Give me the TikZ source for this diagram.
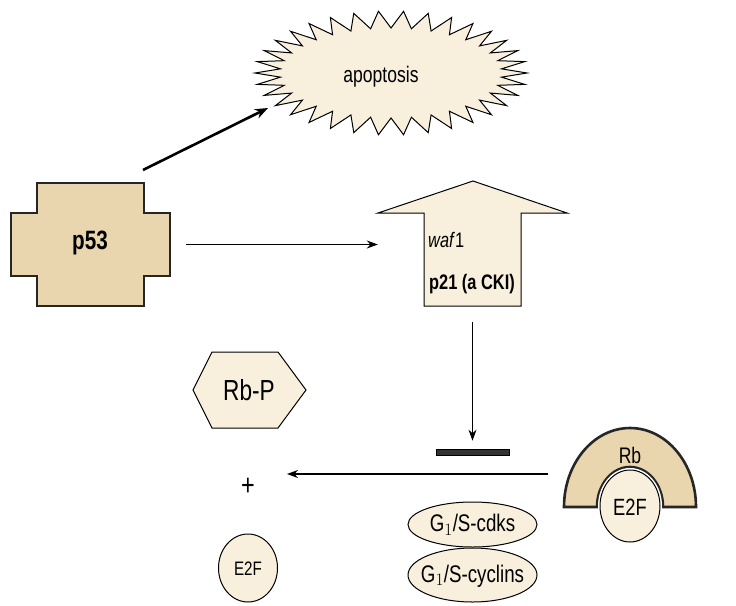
\documentclass[tikz,border=0pt]{standalone}
\usepackage{fontspec}
\setmainfont{Liberation Sans}[FakeStretch=0.78]
\usetikzlibrary{arrows.meta}
\definecolor{tanfill}{HTML}{E9D5AE}
\definecolor{cream}{HTML}{F8EFDD}
\definecolor{bardark}{HTML}{333333}
\begin{document}
\begin{tikzpicture}[x=1pt,y=-1pt,
  thinline/.style={draw=black,line width=1pt,line join=miter},
  thickline/.style={draw=black!85,line width=2.6pt,line join=miter},
  lbl/.style={inner sep=0pt,text=black},
  thinarrow/.style={line width=1.1pt,-{Stealth[length=11pt,width=8pt]}},
  thickarrow/.style={line width=2.6pt,-{Stealth[length=13pt,width=10pt]}}]
\useasboundingbox (0,0) rectangle (736,605);
% apoptosis starburst
\draw[thinline,fill=cream] (527,73)
  \foreach \k in {0,...,33}{ -- ({391+111*cos((2*\k+1)*180/34)},{73+45*sin((2*\k+1)*180/34)}) -- ({391+136*cos((2*\k+2)*180/34)},{73+62*sin((2*\k+2)*180/34)}) } -- cycle;
\node[lbl,font=\fontsize{22.5}{26}\selectfont] (apo) at (381,77) {apoptosis};
% p53 cross
\draw[thickline,fill=tanfill] (37,183) -- (144,183) -- (144,213) -- (170,213) -- (170,276) -- (144,276) -- (144,306) -- (37,306) -- (37,276) -- (11,276) -- (11,213) -- (37,213) -- cycle;
\node[inner sep=0pt,minimum width=159pt,minimum height=123pt] (p53) at (90.5,244.5) {};
\node[lbl,font=\fontsize{26.5}{30}\selectfont\bfseries] (p53t) at (90,243) {p53};
% p21 arrow
\draw[thinline,fill=cream] (473,181) -- (567,213) -- (521,213) -- (521,306) -- (424,306) -- (424,213) -- (378,213) -- cycle;
\node[inner sep=0pt,minimum width=189pt,minimum height=125pt] (p21) at (472.5,243.5) {};
\node[lbl,font=\fontsize{21}{25}\selectfont,anchor=west] (waf) at (428,240) {\textit{waf}1};
\node[lbl,font=\fontsize{21}{25}\selectfont\bfseries] (p21t) at (472,284) {p21 (a CKI)};
% bar
\node[draw=black,fill=bardark,line width=0.6pt,minimum width=73pt,minimum height=6pt,inner sep=0pt] (bar) at (472.5,452) {};
% Rb-P hexagon
\draw[thinline,fill=cream] (212,352) -- (278,352) -- (306,390) -- (278,428) -- (212,428) -- (193,390) -- cycle;
\node[lbl,font=\fontsize{29}{33}\selectfont] (rbp) at (249,390) {Rb-P};
% plus
\node[lbl,font=\fontsize{30}{34}\selectfont] (plus) at (248,487) {+};
% free E2F
\draw[thinline,fill=cream] (248,568) ellipse [x radius=29.5,y radius=34];
\node[lbl,font=\fontsize{19.5}{23}\selectfont] (e2f) at (248,569) {E2F};
% G1/S ellipses
\draw[thinline,fill=cream] (472.5,524.5) ellipse [x radius=64.5,y radius=22.5];
\node[lbl,font=\fontsize{24}{28}\selectfont] (cdk) at (472.5,525) {G$_1$/S-cdks};
\draw[thinline,fill=cream] (472.5,575) ellipse [x radius=64.5,y radius=27];
\node[lbl,font=\fontsize{24}{28}\selectfont] (cyc) at (472.5,576) {G$_1$/S-cyclins};
% Rb half annulus
\draw[thickline,fill=tanfill] (564,507) arc[start angle=180,end angle=360,x radius=66,y radius=79] -- (663,507) arc[start angle=0,end angle=-180,x radius=33,y radius=40] -- cycle;
\node[lbl,font=\fontsize{22.5}{26}\selectfont] (rb) at (630,455) {Rb};
\draw[white,line width=4pt] (630,506) ellipse [x radius=30,y radius=36];
\draw[thinline,fill=cream] (630,506) ellipse [x radius=30,y radius=36];
\node[lbl,font=\fontsize{23.5}{27}\selectfont] (e2fb) at (630,507) {E2F};
% connectors
\coordinate (apostart) at (143,170);
\coordinate (apoend) at (268,108);
\draw[thickarrow] (apostart) -- (apoend);
\draw[thinarrow] ([xshift=16pt]p53.east) -- (p53.east -| p21.west);
\draw[thinarrow] ([yshift=-16pt]p21.south) -- ([yshift=8pt]bar.north);
\coordinate (hstart) at (548,474);
\coordinate (hend) at (287,474);
\draw[thinarrow] (hstart) -- (hend);
\end{tikzpicture}
\end{document}
